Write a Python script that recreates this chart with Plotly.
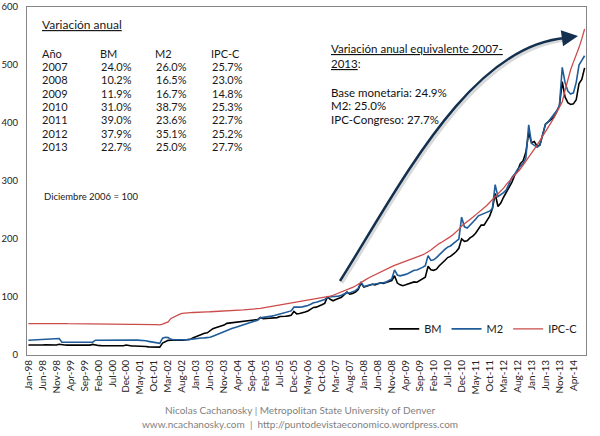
import plotly.graph_objects as go

# ---------------- data (Dec 2006 = 100), monthly Jan-1998 .. Aug-2014 ----------------
month_names = ["Jan", "Feb", "Mar", "Apr", "May", "Jun", "Jul", "Aug", "Sep", "Oct", "Nov", "Dec"]
years = list(range(1998, 2015))
categories = [f"{m}-{str(y)[2:]}" for y in years for m in month_names][:200]

bm = [
    17.2, 17.0, 17.0, 17.1, 17.0, 17.2, 17.5, 17.3, 17.1, 17.0, 17.2, 18.6,
    17.6, 17.2, 17.0, 17.0, 16.9, 17.0, 17.3, 17.0, 16.9, 16.9, 17.0, 18.3,
    16.8, 16.3, 16.1, 16.0, 15.9, 16.0, 16.4, 16.0, 15.8, 15.7, 15.9, 17.2,
    16.0, 15.6, 15.4, 15.5, 15.3, 15.2, 14.6, 14.0, 13.6, 13.1, 12.6, 13.5,
    20.5, 23.6, 25.2, 25.5, 25.3, 25.6, 25.9, 25.7, 26.0, 26.4, 27.3, 29.8,
    32.0, 34.5, 36.8, 37.6, 38.2, 41.5, 45.3, 47.0, 48.2, 49.5, 51.5, 54.5,
    55.0, 56.0, 56.8, 57.3, 57.0, 57.8, 59.2, 58.8, 59.4, 60.1, 61.0, 64.8,
    62.5, 63.0, 63.2, 63.8, 63.5, 64.5, 66.5, 66.0, 66.8, 67.5, 68.5, 75.0,
    71.0, 71.5, 72.5, 74.0, 76.0, 78.5, 82.0, 82.5, 84.0, 86.5, 89.0, 100.0,
    96.0, 93.5, 95.5, 97.0, 99.5, 104.0, 108.5, 105.0, 106.0, 108.5, 113.0, 124.0,
    117.0, 118.5, 120.0, 122.0, 121.0, 122.5, 124.5, 123.5, 125.0, 127.0, 128.5, 136.6,
    124.0, 121.0, 119.5, 121.0, 123.0, 124.0, 126.0, 125.5, 128.0, 130.5, 134.0, 152.9,
    147.0, 146.0, 148.0, 154.0, 158.0, 163.0, 168.0, 170.0, 174.0, 178.0, 184.0, 200.3,
    196.0, 197.0, 202.0, 205.0, 210.0, 218.0, 224.0, 224.0, 232.0, 239.0, 252.0, 278.4,
    256.0, 262.0, 272.0, 280.0, 290.0, 298.0, 310.0, 318.0, 330.0, 335.0, 350.0, 383.9,
    366.0, 368.0, 360.0, 362.0, 380.0, 398.0, 402.0, 406.0, 410.0, 419.0, 430.0, 471.1,
    445.0, 435.0, 432.0, 433.0, 440.0, 468.0, 475.0, 495.0,
]

m2 = [
    25.5, 25.8, 26.0, 26.2, 26.5, 26.8, 27.0, 27.0, 27.1, 27.3, 27.5, 28.5,
    22.0, 22.0, 22.1, 22.2, 22.0, 22.2, 22.3, 22.2, 22.0, 21.8, 21.5, 22.0,
    25.5, 25.6, 25.7, 25.8, 25.9, 26.0, 26.0, 25.9, 26.0, 26.0, 25.9, 26.2,
    25.9, 25.8, 25.8, 25.7, 25.5, 25.2, 24.5, 23.5, 22.5, 21.5, 20.5, 20.0,
    29.0, 30.5, 30.0, 27.0, 26.2, 26.0, 26.0, 26.0, 26.2, 26.5, 27.2, 28.5,
    29.0, 29.2, 29.4, 29.6, 29.8, 30.5, 32.5, 34.5, 36.5, 38.5, 40.5, 43.0,
    44.5, 46.0, 47.5, 49.0, 50.5, 52.0, 54.0, 55.5, 57.0, 58.5, 60.0, 64.0,
    64.5, 65.0, 66.0, 67.0, 68.0, 69.5, 71.0, 72.0, 73.0, 74.5, 76.0, 82.5,
    82.0, 82.5, 83.0, 84.0, 85.5, 87.5, 90.0, 91.0, 92.5, 94.0, 95.5, 100.0,
    100.5, 100.0, 101.0, 101.5, 103.0, 106.0, 107.5, 107.0, 108.5, 111.0, 115.0, 126.0,
    118.0, 119.5, 121.0, 122.0, 122.5, 123.0, 124.0, 124.5, 126.0, 128.5, 131.0, 146.8,
    138.0, 136.5, 137.5, 139.0, 141.0, 144.0, 146.0, 146.5, 148.5, 151.0, 154.0, 171.3,
    163.0, 164.0, 168.0, 173.0, 177.0, 182.0, 186.0, 188.0, 192.0, 196.0, 200.0, 237.6,
    221.0, 219.0, 224.0, 228.0, 234.0, 240.0, 242.0, 243.0, 246.0, 248.0, 252.0, 293.7,
    273.0, 276.0, 280.0, 285.0, 295.0, 306.0, 312.0, 320.0, 325.0, 330.0, 340.0, 396.8,
    365.0, 362.0, 358.0, 362.0, 380.0, 398.0, 402.0, 408.0, 414.0, 421.0, 430.0, 496.0,
    470.0, 455.0, 450.0, 452.0, 470.0, 500.0, 508.0, 516.0,
]

ipc_c = [
    54.0, 54.1, 54.2, 54.3, 54.3, 54.4, 54.5, 54.6, 54.6, 54.5, 54.4, 54.4,
    54.3, 54.2, 54.0, 53.9, 53.9, 53.8, 53.8, 53.7, 53.7, 53.6, 53.5, 53.5,
    53.4, 53.4, 53.3, 53.3, 53.2, 53.2, 53.2, 53.1, 53.1, 53.0, 53.0, 53.0,
    53.0, 52.9, 52.9, 53.0, 52.9, 52.8, 52.7, 52.6, 52.5, 52.4, 52.2, 52.1,
    53.3, 54.9, 57.1, 63.0, 65.6, 67.9, 70.1, 71.7, 72.6, 72.8, 73.1, 73.3,
    73.8, 74.2, 74.5, 74.6, 74.5, 74.6, 74.8, 74.9, 75.0, 75.3, 75.5, 75.8,
    76.1, 76.2, 76.7, 77.2, 77.7, 77.9, 78.4, 78.6, 79.1, 79.4, 79.6, 80.2,
    81.4, 82.2, 83.8, 84.2, 84.8, 85.6, 86.4, 86.8, 87.8, 88.5, 89.4, 90.6,
    91.8, 92.2, 93.3, 94.2, 94.8, 95.3, 95.9, 96.3, 97.2, 98.0, 98.8, 100.0,
    101.6, 103.0, 104.8, 106.6, 108.4, 110.3, 112.4, 114.5, 116.7, 119.0, 122.2, 125.7,
    128.5, 130.9, 133.7, 136.2, 138.9, 141.4, 143.8, 146.0, 148.3, 150.4, 152.5, 154.6,
    156.3, 158.0, 159.9, 161.6, 163.2, 164.9, 166.8, 168.7, 170.6, 172.8, 175.0, 177.5,
    181.0, 184.9, 189.1, 192.1, 194.9, 197.7, 200.8, 204.1, 207.7, 211.5, 216.6, 222.4,
    225.9, 229.6, 233.5, 237.4, 241.6, 245.5, 249.6, 253.7, 257.9, 262.9, 267.7, 272.9,
    278.0, 282.2, 287.8, 294.1, 299.3, 304.3, 309.6, 315.0, 320.6, 327.2, 333.8, 341.6,
    348.6, 355.0, 362.0, 369.6, 376.9, 384.5, 392.5, 400.8, 409.0, 417.6, 426.3, 436.3,
    456.4, 476.0, 491.7, 505.0, 517.1, 530.0, 545.0, 562.0,
]

# annual variation table
table_years = ["2007", "2008", "2009", "2010", "2011", "2012", "2013"]
table_bm = ["24.0%", "10.2%", "11.9%", "31.0%", "39.0%", "37.9%", "22.7%"]
table_m2 = ["26.0%", "16.5%", "16.7%", "38.7%", "23.6%", "35.1%", "25.0%"]
table_ipc = ["25.7%", "23.0%", "14.8%", "25.3%", "22.7%", "25.2%", "27.7%"]

tick_labels = categories[::5]
y_ticks = [0, 100, 200, 300, 400, 500, 600]

# ---------------- figure ----------------
W, H = 600, 436
ML, MR, MT, MB = 27, 14, 7, 81
PW, PH = W - ML - MR, H - MT - MB
FONT = "Lato, 'Open Sans', sans-serif"


def px(x, y):
    return (x - ML) / PW, (H - MB - y) / PH


fig = go.Figure()
fig.add_trace(go.Scatter(x=categories, y=bm, name="BM", mode="lines",
                         line=dict(color="#000000", width=1.6)))
fig.add_trace(go.Scatter(x=categories, y=m2, name="M2", mode="lines",
                         line=dict(color="#1f5c99", width=1.6)))
fig.add_trace(go.Scatter(x=categories, y=ipc_c, name="IPC-C", mode="lines",
                         line=dict(color="#cc4b4b", width=1.3)))

annotations = []


def text(x, y, s, size=11, color="#1a1a1a", anchor="left"):
    xp, yp = px(x, y)
    annotations.append(dict(x=xp, y=yp, xref="paper", yref="paper", text=s,
                            showarrow=False, xanchor=anchor, yanchor="middle",
                            borderpad=0, borderwidth=0,
                            font=dict(family=FONT, size=size, color=color)))


text(42, 25, "<u>Variación anual</u>", size=12)
row_y = [53 + 13.4 * i for i in range(8)]
text(42, row_y[0], "Año")
text(100, row_y[0], "BM")
text(155, row_y[0], "M2")
text(211, row_y[0], "IPC-C")
for i in range(7):
    yy = row_y[i + 1]
    text(42, yy, table_years[i])
    text(101, yy, table_bm[i])
    text(156, yy, table_m2[i])
    text(212, yy, table_ipc[i])

text(44, 196, "Diciembre 2006 = 100", size=9.5)

text(331, 48, "<u>Variación anual equivalente 2007-</u>", size=11.5, color="#111111")
text(331, 63, "<u>2013</u>:", size=11.5, color="#111111")
text(331, 93, "Base monetaria: 24.9%", size=11.5, color="#111111")
text(331, 106, "M2: 25.0%", size=11.5, color="#111111")
text(331, 120, "IPC-Congreso: 27.7%", size=11.5, color="#111111")

# credits (below plot)
text(300, 410, "Nicolas Cachanosky | Metropolitan State University of Denver",
     size=10, color="#7f7f7f", anchor="center")
text(300, 424, "www.ncachanosky.com  |  http://puntodevistaeconomico.wordpress.com",
     size=10, color="#7f7f7f", anchor="center")

# curved arrow
def P(x, y):
    a, b = px(x, y)
    return f"{a:.4f},{b:.4f}"

arrow_path = f"M {P(340, 281)} C {P(400, 186)} {P(470, 45)} {P(566, 38)}"
shadow_path = f"M {P(342, 283)} C {P(402, 188)} {P(472, 47)} {P(568, 40)}"
shapes = [
    dict(type="path", xref="paper", yref="paper", path=shadow_path,
         fillcolor="rgba(0,0,0,0)", line=dict(color="rgba(0,0,0,0.15)", width=3)),
    dict(type="path", xref="paper", yref="paper", path=arrow_path,
         fillcolor="rgba(0,0,0,0)", line=dict(color="#14304f", width=2.5)),
]
tip = px(578, 36)
annotations.append(dict(x=tip[0], y=tip[1], xref="paper", yref="paper",
                        ax=-14, ay=2, axref="pixel", ayref="pixel", text="",
                        showarrow=True, arrowhead=2, arrowsize=1.3,
                        arrowwidth=2.5, arrowcolor="#14304f"))

fig.update_layout(
    width=W, height=H,
    margin=dict(l=ML, r=MR, t=MT, b=MB, pad=0, autoexpand=False),
    paper_bgcolor="white", plot_bgcolor="white",
    font=dict(family=FONT, size=10, color="#333333"),
    showlegend=True,
    legend=dict(orientation="h", x=0.995, xanchor="right", y=0.075, yanchor="middle",
                bgcolor="rgba(0,0,0,0)", font=dict(size=11, color="#1a1a1a"),
                itemwidth=30, tracegroupgap=0),
    annotations=annotations,
    shapes=shapes,
)
fig.update_xaxes(type="category", range=[-0.5, 199.5], tickmode="array",
                 tickvals=tick_labels, ticktext=tick_labels, tickangle=-90,
                 showgrid=False, showline=True, linecolor="#868686", linewidth=1,
                 mirror=True, ticks="", tickfont=dict(size=10, color="#222222"),
                 zeroline=False, automargin=False, ticklabeloverflow="allow")
fig.update_yaxes(range=[0, 600], tickmode="array", tickvals=y_ticks,
                 showgrid=False, showline=True, linecolor="#868686", linewidth=1,
                 mirror=True, ticks="", tickfont=dict(size=9.5, color="#222222"),
                 zeroline=False, ticklabelstandoff=6, automargin=False,
                 ticklabeloverflow="allow")

fig.write_html("out.html",
               config={"displayModeBar": False},
               post_script="document.body.style.margin='0px';document.body.style.padding='0px';")
